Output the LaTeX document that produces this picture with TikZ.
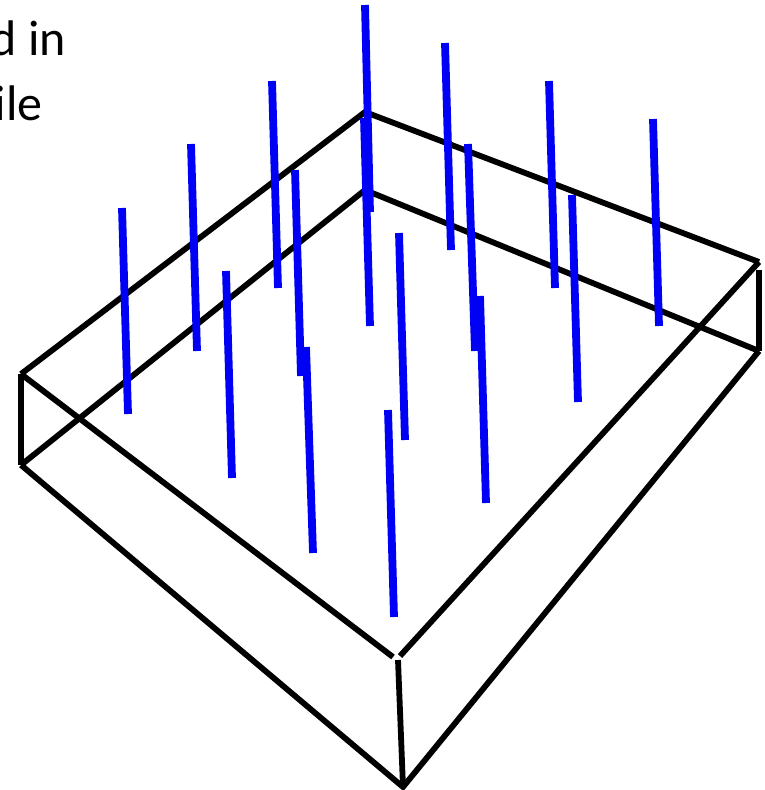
\documentclass[tikz,border=0pt]{standalone}
\usepackage{fontspec}
\setmainfont{Carlito}

\begin{document}
\begin{tikzpicture}[
  x=1pt, y=-1pt,
  edge/.style={draw=black, line width=5.8pt},
  rod/.style={draw=rodblue, line width=7.8pt},
  lbl/.style={font=\fontsize{50}{50}\selectfont, inner sep=0pt, anchor=base east}
]
\definecolor{rodblue}{RGB}{0,0,245}
\useasboundingbox (0,0) rectangle (765,790);
\clip (0,0) rectangle (765,790);

\node[lbl] (line1) at (66,55)  {d in};
\node[lbl] (line2) at (43,120) {ile};

\coordinate (tl) at (21,374);
\coordinate (tb) at (365,112);
\coordinate (tr) at (759,262);
\coordinate (bl) at (21,465);
\coordinate (bb) at (365,190);
\coordinate (br) at (759,351);
\coordinate (bf) at (403,787);
\coordinate (fa) at (393,657);
\coordinate (fb) at (400,656);
\coordinate (fc) at (398,660);

% box
\draw[edge] (tl) -- (tb) -- (tr);
\draw[edge] (tl) -- (fa);
\draw[edge] (tr) -- (fb);
\draw[edge] (bl) -- (bb) -- (br);
\draw[edge] (bl) -- (bf) -- (br);
\draw[edge] (tl) -- (bl);
\draw[edge] (759,270) -- (br);
\draw[edge] (fc) -- (bf);

% rods
\foreach \xa/\ya/\xb/\yb in {365/5/370/212, 445/43/451/250, 549/81/555/288, 653/119/659/326,
    272/81/278/288, 364/118/370/326, 468/144/475/351, 572/195/578/402,
    191/144/197/351, 295/170/301/376, 399/233/405/440, 480/296/486/503,
    122/208/128/414, 226/271/232/478, 306/347/313/553, 388/410/394/617}
  \draw[rod] (\xa,\ya) -- (\xb,\yb);
\end{tikzpicture}
\end{document}
